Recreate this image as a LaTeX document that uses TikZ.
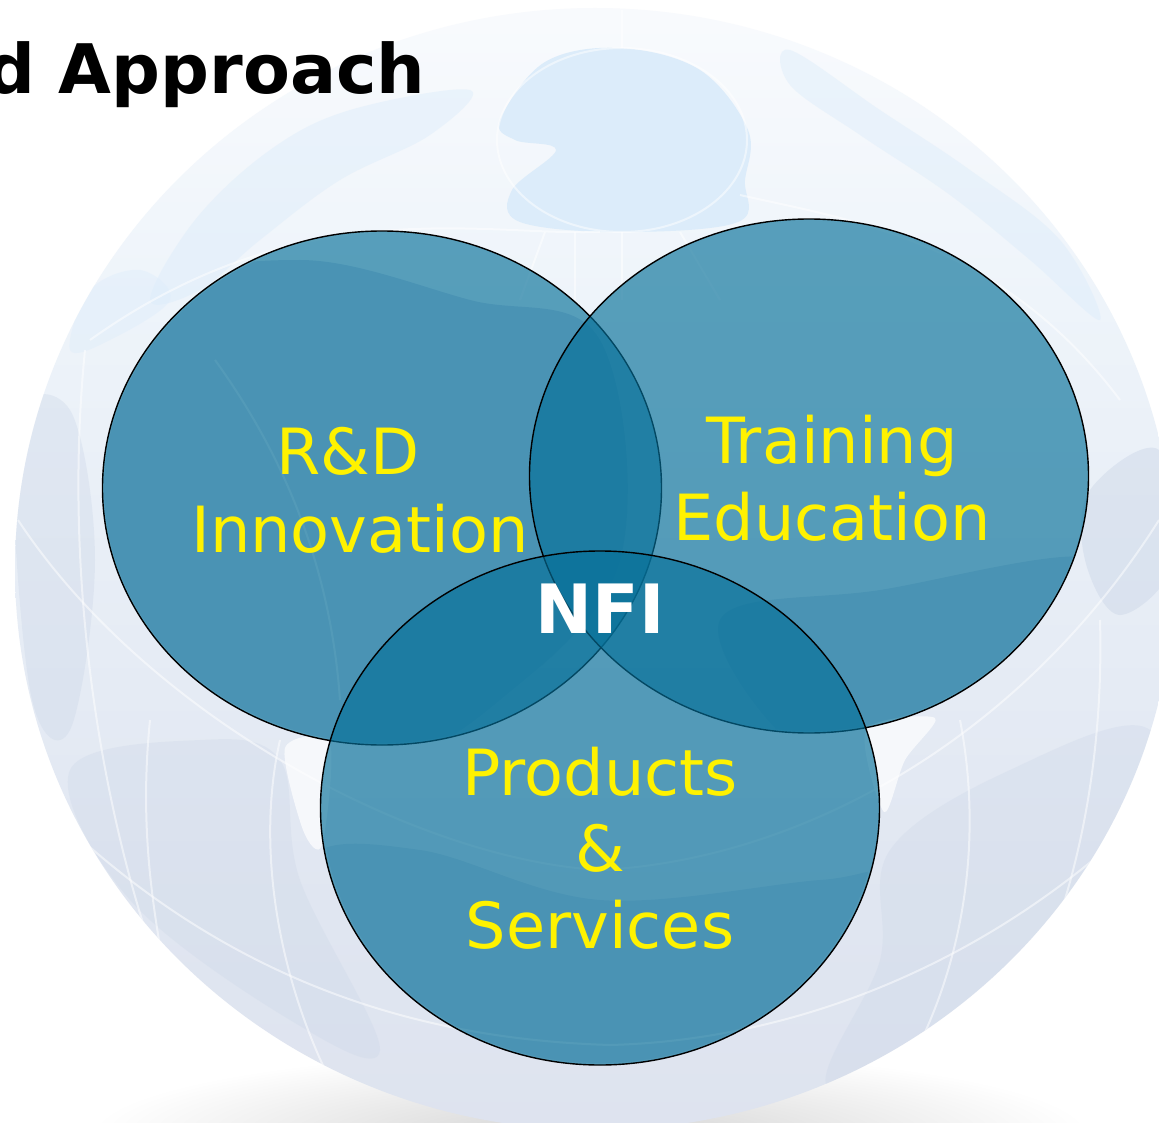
\documentclass[tikz,border=0pt]{standalone}
\usepackage{fontspec}
\usetikzlibrary{shapes.geometric}
\setmainfont{DejaVu Sans}
\definecolor{vennfill}{RGB}{6,112,153}
\definecolor{landblue}{RGB}{220,236,250}
\definecolor{landgrey}{RGB}{203,214,231}
\definecolor{globetop}{RGB}{254,254,255}
\definecolor{globemid}{RGB}{238,244,250}
\definecolor{globelow}{RGB}{224,230,241}
\definecolor{globebot}{RGB}{217,220,233}
\pgfdeclareverticalshading{globeshade}{100bp}{
 color(0bp)=(globebot); color(35bp)=(globelow); color(62bp)=(globemid); color(82bp)=(globetop); color(100bp)=(globetop)}
\tikzset{
 venn/.style={ellipse,draw=black,line width=1.4pt,fill=vennfill,fill opacity=.65,minimum width=559pt,minimum height=514pt,inner sep=0pt},
 vlabel/.style={anchor=base,text=yellow,font=\fontsize{63.7}{64}\selectfont,inner sep=0pt},
 grat/.style={white,line width=2pt,opacity=.5},
 land/.style={fill=landblue,draw=none},
 landb/.style={fill=landgrey,draw=none},
 ocean/.style={fill=white,draw=none,opacity=.7}
}
\begin{document}
\begin{tikzpicture}[x=1pt,y=-1pt]
\useasboundingbox (0,0) rectangle (1159,1123);
\begin{scope}
\clip (0,0) rectangle (1159,1123);
\fill[white] (0,0) rectangle (1159,1123);
\shade[inner color=black!17,outer color=white] (590,1135) ellipse [x radius=500,y radius=85];
\begin{scope}
\clip (595,569) ellipse [x radius=580,y radius=561];
\shade[shading=globeshade] (0,8) rectangle (1200,1130);
% polar region and northern lands
\path[land] plot[smooth cycle,tension=.6] coordinates {(500,120) (545,62) (620,48) (700,70) (748,130) (745,180) (738,222) (620,232) (520,222) (512,190) (556,150) (515,140)};
\path[land,opacity=.45] plot[smooth cycle,tension=.6] coordinates {(150,300) (195,220) (270,150) (350,110) (470,90) (430,135) (340,180) (260,240) (200,290)};
\path[land,opacity=.45] plot[smooth cycle,tension=.6] coordinates {(790,50) (880,110) (970,170) (1060,240) (1100,320) (1030,260) (950,195) (860,135) (790,85)};
\path[land,opacity=.4] plot[smooth cycle,tension=.6] coordinates {(90,290) (140,270) (170,300) (110,340) (70,350)};
% darker lands seen through the circles
\begin{scope}
\clip (382,488) ellipse [x radius=278,y radius=255];
\path[landb] plot[smooth cycle,tension=.6] coordinates {(90,480) (150,300) (300,260) (470,300) (600,340) (620,560) (500,700) (380,760) (220,720) (110,590)};
\end{scope}
\begin{scope}
\clip (600,808) ellipse [x radius=277,y radius=255];
\path[landb] plot[smooth cycle,tension=.6] coordinates {(310,860) (420,850) (600,900) (820,880) (890,880) (870,1000) (720,1080) (600,1090) (450,1070) (340,990)};
\end{scope}
\begin{scope}
\clip (809,476) ellipse [x radius=278,y radius=255];
\path[landb] plot[smooth cycle,tension=.6] coordinates {(720,620) (880,590) (1100,560) (1060,680) (920,750) (800,750)};
\end{scope}
\path[landb,opacity=.45] plot[smooth cycle,tension=.6] coordinates {(1090,490) (1159,450) (1175,560) (1120,615) (1085,560)};
\path[landb,opacity=.35] plot[smooth cycle,tension=.6] coordinates {(15,430) (70,410) (95,560) (70,730) (30,690)};
\path[landb,opacity=.3] plot[smooth cycle,tension=.6] coordinates {(890,850) (1010,770) (1150,730) (1150,880) (1010,1040) (830,1090) (880,960)};
\path[landb,opacity=.3] plot[smooth cycle,tension=.6] coordinates {(70,770) (200,740) (280,760) (300,880) (380,1050) (290,1020) (130,900)};
\path[ocean] plot[smooth cycle,tension=.5] coordinates {(285,748) (330,744) (322,845) (303,830)};
\path[ocean] plot[smooth cycle,tension=.5] coordinates {(866,730) (935,718) (905,760) (884,812)};
% graticule
\draw[grat] (622,140) ellipse [x radius=125,y radius=92];
\draw[grat] (600,232) .. controls (480,236) and (300,190) .. (90,340);
\draw[grat] (740,195) .. controls (850,220) and (1000,240) .. (1120,400);
\draw[grat] (18,520) .. controls (150,720) and (420,860) .. (600,870) .. controls (800,860) and (1020,740) .. (1159,520);
\draw[grat] (60,820) .. controls (250,1000) and (450,1040) .. (610,1045) .. controls (800,1040) and (1000,960) .. (1159,800);
\draw[grat] (85,350) .. controls (60,600) and (110,850) .. (170,1000);
\draw[grat] (150,720) .. controls (140,820) and (150,900) .. (170,1000);
\draw[grat] (280,740) .. controls (255,850) and (280,980) .. (330,1080);
\draw[grat] (960,720) .. controls (985,850) and (960,980) .. (900,1080);
\draw[grat] (1100,620) .. controls (1105,800) and (1060,950) .. (1000,1050);
\draw[grat] (575,232) -- (575,300);
\draw[grat] (622,232) -- (622,300);
\draw[grat] (545,232) -- (520,300);
\draw[grat] (680,232) -- (720,300);
\draw[grat] (622,48) -- (622,10);
\draw[grat] (215,360) .. controls (280,450) and (330,560) .. (340,700);
\end{scope}
\end{scope}
% Venn circles
\node[venn] (rd) at (382,488) {};
\node[venn] (tr) at (809,476) {};
\node[venn] (ps) at (600,808) {};
% labels
\node[vlabel] (l1) at (348,474) {R\&D};
\node[vlabel] (l2) at (360,552) {Innovation};
\node[vlabel] (l3) at (832,463) {Training};
\node[vlabel] (l4) at (832,540) {Education};
\node[vlabel] (l5) at (600,795) {Products};
\node[vlabel] (l6) at (600,871) {\&};
\node[vlabel] (l7) at (600,948) {Services};
\node[anchor=base,text=white,inner sep=0pt,font=\fontsize{68}{68}\selectfont\bfseries] (nfi) at (600,633) {NFI};
\node[anchor=base east,text=black,inner sep=0pt,font=\fontsize{68.3}{69}\selectfont\bfseries] (title) at (425.5,94) {d Approach};
\end{tikzpicture}
\end{document}
